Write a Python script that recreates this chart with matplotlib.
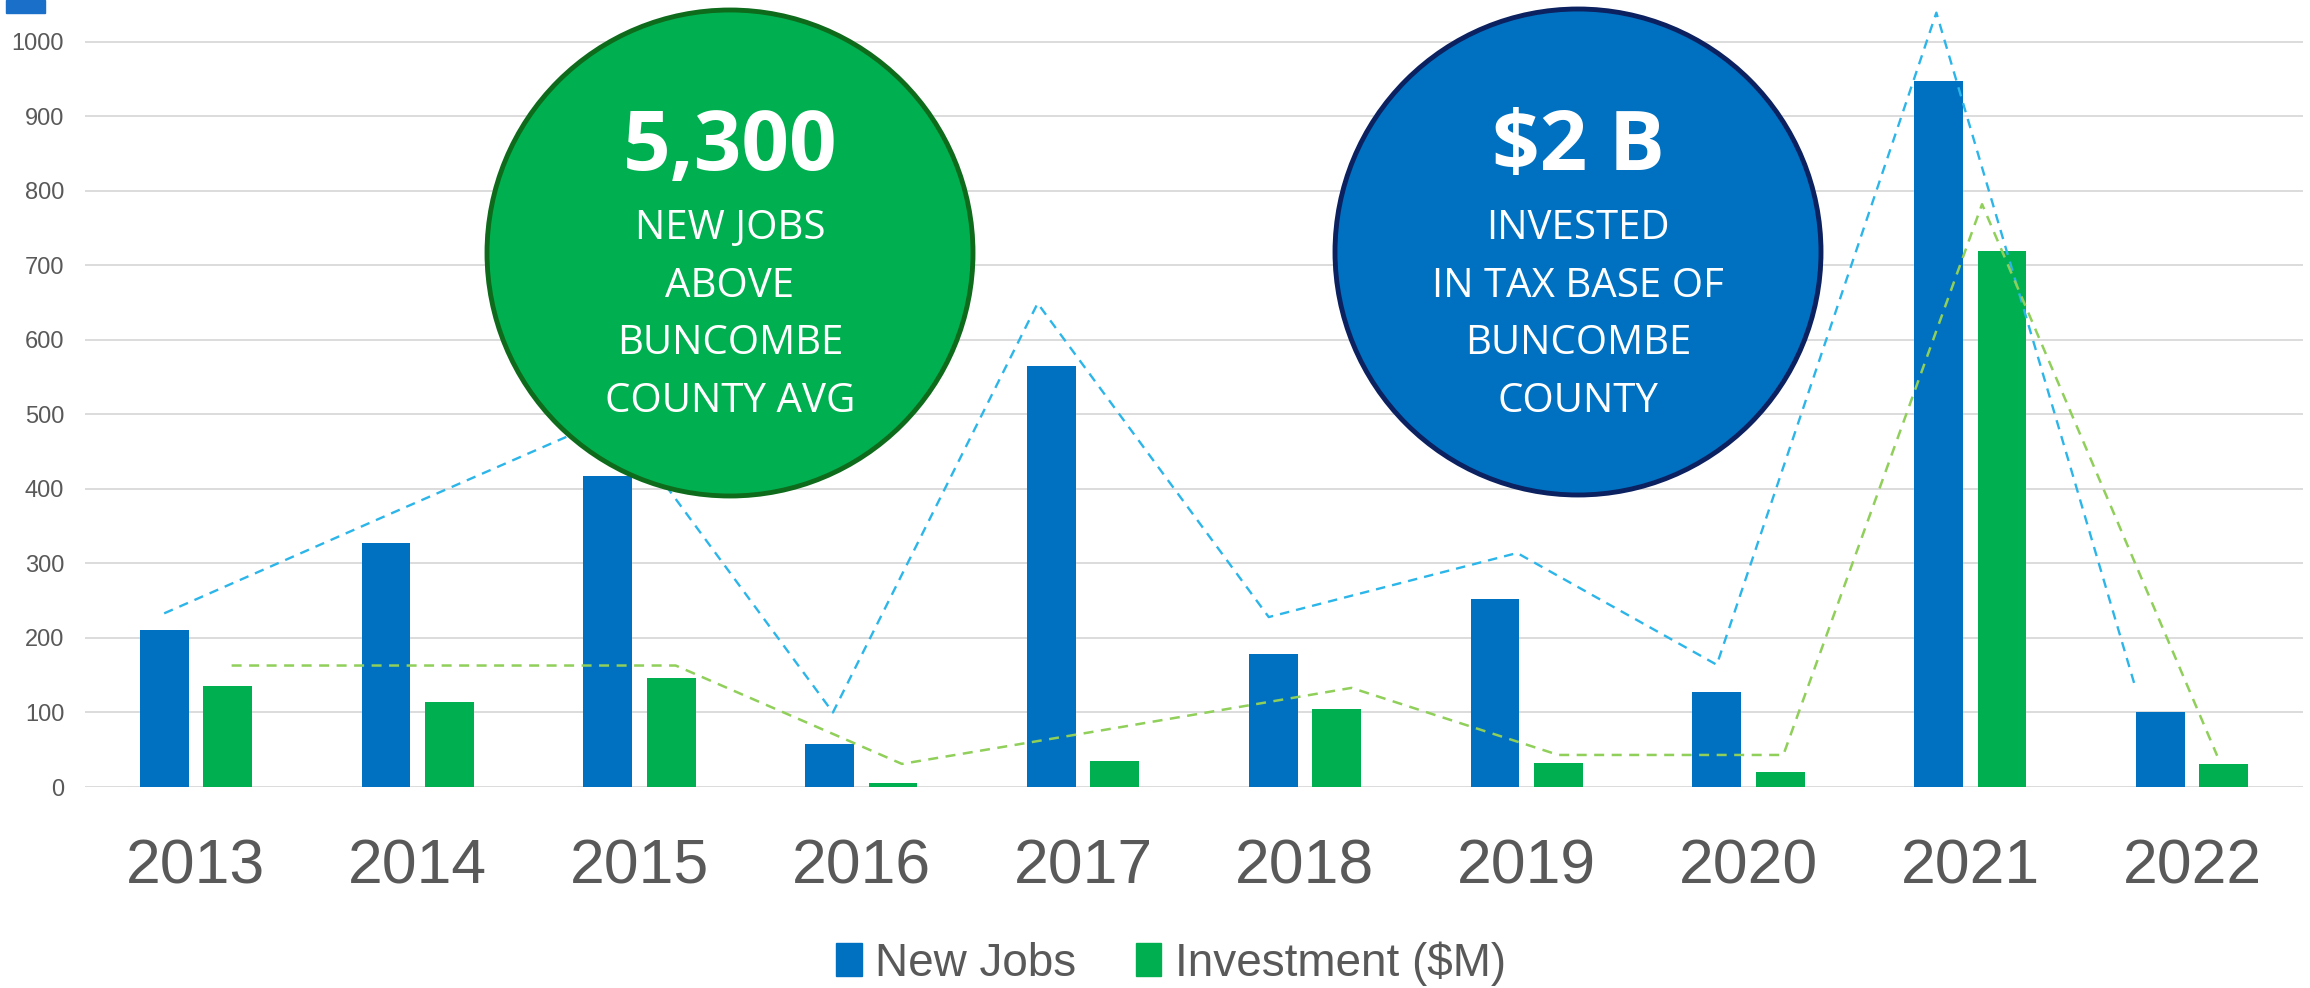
import matplotlib
matplotlib.use("Agg")
import matplotlib.pyplot as plt
import numpy as np
from matplotlib.patches import Circle, Patch, Rectangle

# --- data ---
years = ["2013", "2014", "2015", "2016", "2017", "2018", "2019", "2020", "2021", "2022"]
new_jobs = [210, 328, 417, 58, 565, 178, 252, 127, 947, 101]
investment = [135, 114, 146, 5, 35, 104, 32, 20, 719, 31]

# dashed trend outlines drawn over the bars (value, and shift from bar centre in category units)
jobs_trend = [233, 364, 498, 100, 649, 228, 314, 164, 1039, 131]
jobs_trend_shift = [0.0, 0.0, 0.03, 0.015, -0.062, -0.02, 0.1, 0.0, -0.01, -0.11]
invest_trend = [163, 163, 163, 31, 79, 133, 43, 43, 782, 42]
invest_trend_shift = [0.018, 0.0, 0.02, 0.04, 0.0, 0.067, 0.0, 0.014, -0.09, -0.03]

y_ticks = list(range(0, 1001, 100))

green_callout = ["5,300", "NEW JOBS", "ABOVE", "BUNCOMBE", "COUNTY AVG"]
blue_callout = ["\\$2 B", "INVESTED", "IN TAX BASE OF", "BUNCOMBE", "COUNTY"]

BLUE = "#0070C0"
GREEN = "#00B050"
TEXT = "#595959"
GRID = "#D9D9D9"

W, H = 2310, 988
fig = plt.figure(figsize=(W / 100, H / 100), dpi=100)
ax = fig.add_axes([85 / W, 1 - 787 / H, (2303 - 85) / W, 787 / H])

x = np.arange(len(years))
width = 0.22
off = 0.143
ax.bar(x - off, new_jobs, width, color=BLUE, zorder=2)
ax.bar(x + off, investment, width, color=GREEN, zorder=2)

ax.plot(x - off + np.array(jobs_trend_shift), jobs_trend, color="#2CB5E9",
        lw=1.7, dashes=(4, 3), zorder=3)
ax.plot(x + off + np.array(invest_trend_shift), invest_trend, color="#8FCF5A",
        lw=1.8, dashes=(4, 3), zorder=3)

ax.set_xlim(-0.5, len(years) - 0.5)
ax.set_ylim(0, 1056)
ax.set_yticks(y_ticks)
ax.set_yticklabels([str(v) for v in y_ticks], fontsize=17, color=TEXT,
                   family="Liberation Sans")
ax.set_xticks(x)
ax.set_xticklabels(years, fontsize=45, color=TEXT, family="Liberation Sans")
ax.tick_params(axis="y", length=0, pad=15)
ax.tick_params(axis="x", length=0, pad=36)
ax.grid(axis="y", color=GRID, lw=1.3)
ax.set_axisbelow(True)
for s in ax.spines.values():
    s.set_visible(False)

# legend
handles = [Patch(color=BLUE, label="New Jobs"), Patch(color=GREEN, label="Investment ($M)")]
fig.legend(handles=handles, loc="center", bbox_to_anchor=(0.507, 0.025), ncol=2,
           frameon=False, prop={"family": "Liberation Sans", "size": 33},
           labelcolor=TEXT, handlelength=0.55, handleheight=0.7,
           handletextpad=0.3, columnspacing=1.3)

# small marker in the top-left corner
fig.add_artist(Rectangle((6 / W, 1 - 13 / H), 39 / W, 13 / H,
                         transform=fig.transFigure, color="#1A70C8"))

# callout circles, in pixel space
ov = fig.add_axes([0, 0, 1, 1])
ov.set_xlim(0, W)
ov.set_ylim(H, 0)
ov.axis("off")
ov.patch.set_alpha(0)


def callout(cx, cy, face, edge, lines):
    ov.add_patch(Circle((cx, cy), 243, facecolor=face, edgecolor=edge, lw=3.5))
    ov.text(cx, 170, lines[0], ha="center", va="baseline", color="white",
            fontsize=60, fontweight="bold", family="Open Sans")
    for i, line in enumerate(lines[1:]):
        ov.text(cx, 239 + 57.5 * i, line, ha="center", va="baseline",
                color="white", fontsize=29, family="Open Sans")


callout(730, 253, GREEN, "#0E6B1C", green_callout)
callout(1578, 252, BLUE, "#0B2160", blue_callout)

fig.savefig("out.png", dpi=100)
